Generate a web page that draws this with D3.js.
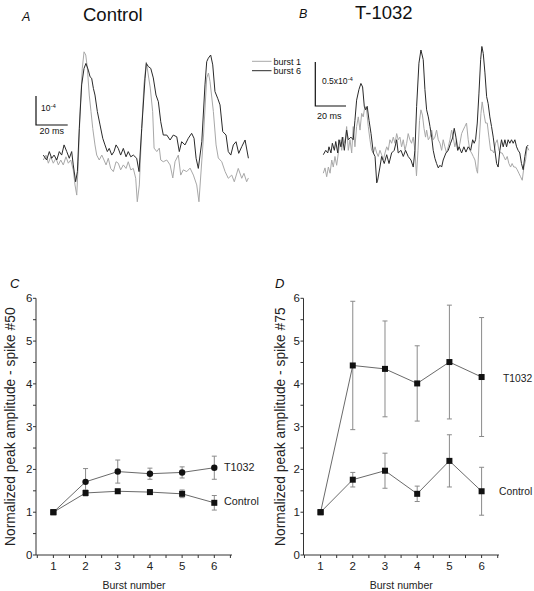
<!DOCTYPE html>
<html><head><meta charset="utf-8">
<script src="https://cdn.jsdelivr.net/npm/d3@7"></script>
<style>body{margin:0;background:#fff}svg{display:block;font-family:"Liberation Sans",Arial,sans-serif}</style>
</head><body><svg id="c" width="534" height="591"></svg>
<script>
// ---- Trace data: [time ms, amplitude x1e-4] ----
const traceA_burst6 = [[0,0.17],[2.1,0],[3.8,0.29],[5.3,0.06],[6.8,0.17],[8.5,0],[10.1,0.29],[11.6,0.17],[13.1,0.52],[14.8,0.29],[16.4,0.06],[17.9,0.29],[18.9,-0.17],[20.4,-0.75],[21.5,-0.4],[22.7,1.09],[24.2,2.59],[25.7,3.16],[26.9,3.33],[28.4,3.1],[29.5,2.87],[30.5,2.82],[31.6,2.47],[32.6,2.24],[34.1,1.67],[35.8,1.21],[37.5,0.75],[38.9,0.52],[40.4,0.29],[41.6,0.4],[43.2,0.17],[44.6,0.29],[45.9,0.52],[47.3,0.4],[48.8,0.17],[50.5,0.4],[52.2,0.11],[53.6,0.29],[55.2,0.11],[56.8,0.17],[58.9,0.06],[60.4,-0.4],[62.1,1.09],[64.2,2.82],[65.0,3.33],[66.3,3.22],[67.8,3.16],[69.4,2.83],[71.1,2.24],[72.6,2.01],[74.1,1.32],[75.7,0.86],[77.9,0.86],[80.0,0.69],[82.0,0.86],[84.2,0.8],[85.8,0.29],[87.3,0.63],[89.4,0.52],[91.5,0.75],[93.6,0.92],[95.1,0.75],[96.4,0.06],[97.8,-0.29],[100.0,0.63],[102.0,2.59],[103.1,3.39],[104.1,3.51],[105.6,3.62],[106.9,3.28],[108.3,2.36],[110.0,2.13],[111.5,1.9],[113.2,0.98],[115.3,0.86],[116.7,0.29],[118.3,0.17],[119.9,0.52],[121.6,0.63],[123.3,0.23],[125.2,0.46],[127.3,0.69],[129.4,0.06]];
const traceA_burst1 = [[0,0],[1.7,0.17],[3.2,-0.11],[4.7,0.11],[6.3,-0.11],[8.0,0.06],[9.5,-0.17],[11.0,0],[12.6,-0.17],[14.3,0.11],[15.8,-0.11],[17.3,0],[18.9,-0.34],[20.0,-0.86],[21.1,-1.21],[22.1,-0.06],[23.2,1.67],[24.6,3.16],[25.7,3.73],[26.8,3.62],[27.8,3.16],[29.0,2.24],[30.1,1.67],[31.2,1.09],[32.6,0.52],[33.7,0.17],[35.3,0],[36.9,0.17],[38.3,0],[39.6,-0.17],[41.0,0.06],[42.5,-0.29],[44.2,-0.4],[45.9,-0.06],[47.3,-0.11],[48.8,-0.34],[50.5,-0.17],[52.2,-0.29],[53.6,-0.06],[55.2,-0.34],[56.8,-0.29],[58.3,-0.63],[59.3,-1.44],[60.6,-0.86],[62.1,1.09],[63.5,2.59],[65.0,3.38],[67.5,2.48],[69.0,1.67],[69.9,0.41],[71.6,0.29],[73.2,0.41],[74.1,0],[75.7,-0.06],[77.9,0],[80.0,-0.17],[81.7,-0.62],[83.1,-0.06],[85.2,0.17],[86.7,-0.52],[88.3,-0.34],[90.5,-0.4],[92.6,-0.28],[94.7,-0.52],[96.8,-0.86],[98.2,-1.44],[101.0,0.76],[103.1,2.83],[104.2,3.0],[105.2,2.7],[107.3,1.67],[109.0,0.52],[110.4,0.07],[112.6,-0.06],[114.7,-0.4],[116.7,-0.63],[118.9,-0.52],[120.5,-0.75],[123.0,-0.29],[125.2,-0.63],[126.6,-0.46],[128.3,-0.75],[129.4,-0.62]];
const traceB_burst6 = [[0,0.06],[1.6,0.11],[2.9,0.08],[3.7,0.15],[5.0,0.08],[5.9,0.19],[7.2,0.11],[8.1,0.21],[9.4,0.08],[10.2,0.23],[11.5,0.15],[12.4,0.26],[13.7,0.11],[15.2,0.34],[16.3,0.23],[18.0,0.26],[19.5,0.23],[20.6,0.45],[21.7,0.68],[23.2,0.8],[24.5,0.87],[25.6,0.83],[26.7,0.61],[27.6,0.57],[28.6,0.61],[29.8,0.45],[31.1,0.3],[32.6,0.08],[33.7,0.04],[34.8,-0.26],[35.4,-0.23],[36.9,-0.08],[38.0,0.04],[39.7,-0.04],[41.3,0.06],[42.8,-0.04],[44.5,0.08],[46.2,0.11],[47.8,0.23],[48.8,0.08],[50.6,0.11],[52.1,0.04],[53.6,0.11],[55.3,0.04],[57.1,0],[58.6,-0.08],[59.7,0.11],[60.8,0.61],[62.3,1.1],[63.6,1.25],[65.1,1.14],[66.2,0.8],[67.3,0.57],[68.4,0.49],[69.5,0.38],[70.6,0.26],[71.6,0.11],[72.7,0.02],[73.8,-0.04],[74.9,-0.09],[76.0,-0.06],[77.1,-0.08],[78.1,0],[79.9,0.08],[81.4,0.11],[82.9,0.19],[84.2,0.25],[85.3,0.36],[86.4,0.26],[87.5,0.11],[88.5,0.15],[90.1,0.08],[91.6,0.15],[92.9,0.09],[94.4,0.15],[96.0,0.11],[97.3,0.23],[98.3,0.19],[99.2,0.23],[100.3,0.42],[101.4,0.76],[102.5,1.14],[103.3,1.29],[104.2,1.21],[105.3,0.99],[106.4,0.72],[107.4,0.64],[108.5,0.49],[109.6,0.38],[110.7,0.26],[111.8,0.11],[112.9,-0.04],[113.9,-0.08],[115.0,0.11],[116.1,0.23],[117.2,0.15],[118.3,0.23],[119.4,0.15],[120.4,0.23],[121.5,0.19],[122.6,0.23],[123.7,0.19],[124.8,0.23],[125.9,0.15],[126.9,0.11],[128.0,0.08],[129.1,-0.04],[130.2,-0.11],[131.3,0.04],[132.4,0.15],[133.5,0.17]];
const traceB_burst1 = [[0,-0.15],[1.1,-0.09],[2.2,-0.19],[3.3,-0.08],[4.4,-0.15],[5.5,0],[6.5,-0.08],[7.6,0.04],[8.7,-0.06],[9.8,0.08],[10.9,0.23],[12.0,0.11],[13.0,0.26],[14.1,0.19],[15.2,0.38],[16.3,0.11],[17.4,0.23],[18.5,0.08],[19.5,0.38],[20.6,0.15],[21.7,0.38],[22.8,0.49],[23.9,0.34],[25.0,0.53],[26.0,0.49],[27.1,0.61],[28.2,0.57],[29.3,0.38],[30.4,0.23],[31.5,0.11],[32.6,0.08],[33.7,0.15],[34.8,0.08],[35.8,0.04],[36.9,0.11],[38.0,0.06],[39.1,0],[40.2,0.08],[41.3,0.15],[42.3,0.11],[43.4,0.23],[44.5,0.19],[45.6,0.26],[46.7,0.19],[47.8,0.3],[48.8,0.23],[49.9,0.26],[51.0,0.15],[52.1,0.23],[53.2,0.11],[54.3,0.19],[55.3,0.3],[56.4,0.23],[57.5,0.19],[58.6,0.26],[59.7,0.11],[60.7,-0.18],[61.7,0.11],[62.7,0.45],[63.6,0.57],[64.6,0.51],[65.6,0.36],[66.6,0.26],[67.3,0.34],[68.4,0.23],[69.5,0.26],[70.6,0.34],[71.6,0.23],[72.7,0.26],[73.8,0.34],[74.9,0.23],[76.0,0.19],[77.1,0.11],[78.1,0.23],[79.2,0.15],[80.3,0.08],[81.4,0.15],[82.5,0.23],[83.6,0.34],[84.6,0.26],[85.7,0.15],[86.8,0.23],[87.9,0.11],[89.0,0.19],[90.1,0.3],[91.1,0.34],[92.2,0.38],[93.3,0.42],[94.4,0.23],[95.5,0.11],[96.6,0.08],[97.7,0.04],[98.8,0],[99.8,-0.11],[100.5,-0.15],[101.6,0.23],[102.7,0.53],[103.5,0.66],[104.6,0.53],[105.7,0.42],[106.8,0.42],[107.9,0.26],[109.0,0.11],[110.0,0.11],[111.1,0.08],[112.2,0.19],[113.3,0.23],[114.4,0.11],[115.5,0.08],[116.5,0.08],[117.6,0.04],[118.7,0],[119.8,0.04],[120.9,-0.04],[122.0,-0.08],[123.0,-0.04],[124.1,-0.08],[125.2,-0.08],[126.3,-0.11],[127.4,-0.15],[128.5,-0.19],[129.6,-0.23],[130.7,-0.08],[131.8,0],[132.8,0.15],[133.9,0.11]];

// ---- Summary data ----
const bursts = [1,2,3,4,5,6];
const ctrlC = [1.00,1.45,1.49,1.47,1.43,1.22];
const ctrlCErr = [0,0.07,0.05,0.05,0.09,0.17];
const t1032C = [1.00,1.71,1.95,1.90,1.93,2.04];
const t1032CErr = [0,0.31,0.27,0.13,0.13,0.27];
const ctrlD = [1.00,1.76,1.97,1.43,2.20,1.49];
const ctrlDErr = [0,0.17,0.41,0.18,0.61,0.56];
const t1032D = [1.00,4.43,4.35,4.01,4.51,4.16];
const t1032DErr = [0,1.50,1.12,0.88,1.33,1.39];
const yTicks = [0,1,2,3,4,5,6];

const svg = d3.select("#c");
const dark = "#2a2a2a", light = "#a8a8a8";

function txt(x,y,s,size,opts={}){
  const t = svg.append("text").attr("x",x).attr("y",y).attr("font-size",size).attr("fill","#111").text(s);
  if(opts.italic) t.attr("font-style","italic");
  if(opts.anchor) t.attr("text-anchor",opts.anchor);
  return t;
}

// ---------- Panel A ----------
const xA = d3.scaleLinear().domain([0,130]).range([43.3,249.35]);
const yA = d3.scaleLinear().domain([0,1]).range([160,131]);
const lineA = d3.line().x(d=>xA(d[0])).y(d=>yA(d[1]));
svg.append("path").datum(traceA_burst1).attr("d",lineA).attr("fill","none").attr("stroke",light).attr("stroke-width",1);
svg.append("path").datum(traceA_burst6).attr("d",lineA).attr("fill","none").attr("stroke",dark).attr("stroke-width",1);
{
  const x0=36, y0=125;
  const w = xA(20)-xA(0), h = yA(0)-yA(1);
  svg.append("path").attr("d",`M${x0},${y0-h}V${y0}H${x0+w}`).attr("fill","none").attr("stroke","#111").attr("stroke-width",1.2);
  const t = txt(41,111,"10",8.5); t.append("tspan").attr("dy",-3.5).attr("font-size",6).text("-4");
  txt(39.5,134,"20 ms",9);
}
txt(22,21,"A",12.5,{italic:true});
txt(83,21,"Control",18.5);
svg.append("line").attr("x1",252).attr("x2",271.5).attr("y1",61.3).attr("y2",61.3).attr("stroke",light);
svg.append("line").attr("x1",252).attr("x2",271.5).attr("y1",70.7).attr("y2",70.7).attr("stroke",dark);
txt(273.5,64.5,"burst 1",9);
txt(273.5,74,"burst 6",9);

// ---------- Panel B ----------
const xB = d3.scaleLinear().domain([0,134]).range([323.3,529]);
const yB = d3.scaleLinear().domain([0,1]).range([160,72]);
const lineB = d3.line().x(d=>xB(d[0])).y(d=>yB(d[1]));
svg.append("path").datum(traceB_burst1).attr("d",lineB).attr("fill","none").attr("stroke",light).attr("stroke-width",1);
svg.append("path").datum(traceB_burst6).attr("d",lineB).attr("fill","none").attr("stroke",dark).attr("stroke-width",1);
{
  const x0=315.3, y0=106;
  const w = xB(20)-xB(0), h = yB(0)-yB(0.5);
  svg.append("path").attr("d",`M${x0},${y0-h}V${y0}H${x0+w}`).attr("fill","none").attr("stroke","#111").attr("stroke-width",1.2);
  const t = txt(322,84,"0.5x10",8.5); t.append("tspan").attr("dy",-3.5).attr("font-size",6).text("-4");
  txt(317,119,"20 ms",9);
}
txt(299,18,"B",12.5,{italic:true});
txt(355,18.5,"T-1032",18.5);

// ---------- Panels C and D ----------
function summary(x0,x1,xdom,letter,letterX,ylabel,labelOff,series){
  const x = d3.scaleLinear().domain(xdom).range([x0,x1]);
  const y = d3.scaleLinear().domain([0,6]).range([555,298.3]);
  const g = svg.append("g");
  g.append("line").attr("x1",x0).attr("x2",x0).attr("y1",y(0)).attr("y2",y(6)).attr("stroke","#333");
  g.append("line").attr("x1",x0).attr("x2",x1).attr("y1",y(0)).attr("y2",y(0)).attr("stroke","#333");
  d3.range(0,6.01,0.5).forEach(v=>{
    g.append("line").attr("x1",x0-3).attr("x2",x0).attr("y1",y(v)).attr("y2",y(v)).attr("stroke","#333");
  });
  yTicks.forEach(v=>{
    g.append("text").attr("x",x0-3.5).attr("y",y(v)+4).attr("text-anchor","end").attr("font-size",11.5).attr("fill","#222").text(v);
  });
  d3.range(0.5,6.51,0.5).forEach(v=>{
    g.append("line").attr("x1",x(v)).attr("x2",x(v)).attr("y1",y(0)).attr("y2",y(0)+3).attr("stroke","#333");
  });
  bursts.forEach(v=>{
    g.append("text").attr("x",x(v)).attr("y",570).attr("text-anchor","middle").attr("font-size",11.5).attr("fill","#222").text(v);
  });
  g.append("text").attr("x",(x0+x1)/2).attr("y",589).attr("text-anchor","middle").attr("font-size",10.5).attr("fill","#222").text("Burst number");
  g.append("text").attr("transform",`translate(${x0-labelOff},${y(3)}) rotate(-90)`).attr("text-anchor","middle").attr("font-size",13.8).attr("fill","#222").text(ylabel);
  txt(letterX,288,letter,13,{italic:true});
  const line = d3.line().x((d,i)=>x(bursts[i])).y(d=>y(d));
  series.forEach(s=>{
    s.vals.forEach((v,i)=>{
      if(!s.err[i]) return;
      const xi=x(bursts[i]);
      g.append("path").attr("d",`M${xi},${y(v-s.err[i])}V${y(v+s.err[i])}M${xi-2.5},${y(v-s.err[i])}H${xi+2.5}M${xi-2.5},${y(v+s.err[i])}H${xi+2.5}`)
        .attr("stroke","#8a8a8a").attr("stroke-width",1).attr("fill","none");
    });
  });
  series.forEach(s=>{
    g.append("path").datum(s.vals).attr("d",line).attr("fill","none").attr("stroke","#6a6a6a").attr("stroke-width",1);
  });
  series.forEach(s=>{
    s.vals.forEach((v,i)=>{
      const xi=x(bursts[i]), yi=y(v);
      if(s.shape==="circle" && i>0) g.append("circle").attr("cx",xi).attr("cy",yi).attr("r",3.2).attr("fill","#111");
      else g.append("rect").attr("x",xi-3).attr("y",yi-3).attr("width",6).attr("height",6).attr("fill","#111");
    });
    g.append("text").attr("x",s.lx).attr("y",y(s.vals[5])+s.ldy).attr("font-size",s.fs).attr("fill","#222").text(s.label);
  });
}
summary(36,232,[0.46,6.55],"C",10,"Normalized peak amplitude - spike #50",21.5,[
  {vals:t1032C,err:t1032CErr,shape:"circle",label:"T1032",lx:224,ldy:3.5,fs:10.8},
  {vals:ctrlC,err:ctrlCErr,shape:"square",label:"Control",lx:224,ldy:2.5,fs:10.8}
]);
summary(303.5,499,[0.47,6.54],"D",275,"Normalized peak amplitude - spike #75",18.5,[
  {vals:t1032D,err:t1032DErr,shape:"square",label:"T1032",lx:503,ldy:4.5,fs:10.3},
  {vals:ctrlD,err:ctrlDErr,shape:"square",label:"Control",lx:499,ldy:3.5,fs:10.3}
]);
</script></body></html>
